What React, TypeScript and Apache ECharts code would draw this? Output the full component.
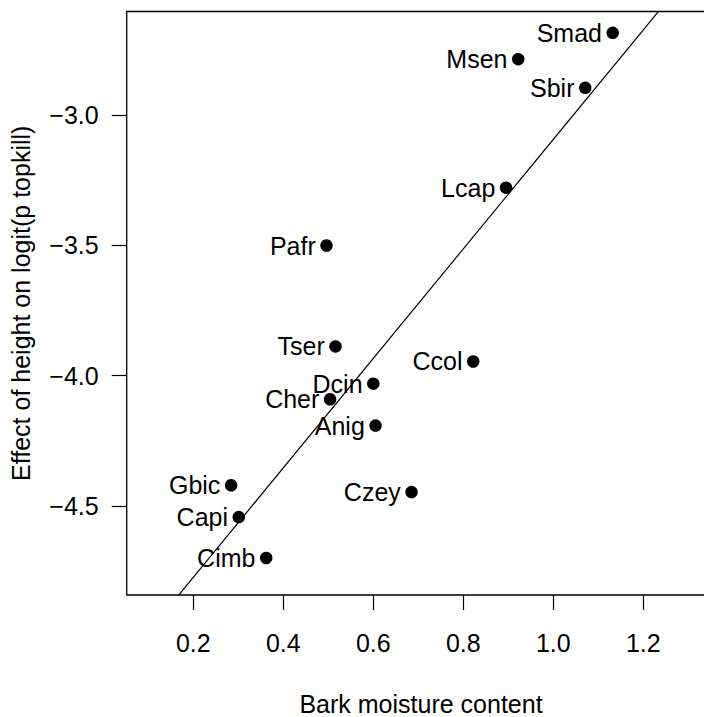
import React, { useEffect, useRef } from "react";
import * as echarts from "echarts";

const species = ["Smad", "Msen", "Sbir", "Lcap", "Pafr", "Tser", "Ccol", "Dcin", "Cher", "Anig", "Gbic", "Capi", "Cimb", "Czey"];
const barkMoisture = [1.132, 0.922, 1.071, 0.895, 0.496, 0.516, 0.822, 0.6, 0.504, 0.605, 0.284, 0.301, 0.362, 0.685];
const heightEffect = [-2.685, -2.786, -2.896, -3.279, -3.501, -3.888, -3.946, -4.031, -4.091, -4.192, -4.421, -4.543, -4.7, -4.447];
const xTicks = [0.2, 0.4, 0.6, 0.8, 1.0, 1.2];
const yTicks = [-4.5, -4.0, -3.5, -3.0];
const xLabel = "Bark moisture content";
const yLabel = "Effect of height on logit(p topkill)";

const X_MIN = 0.052;
const X_MAX = 1.36;
const Y_MIN = -4.842;
const Y_MAX = -2.603;

function leastSquares(xs: number[], ys: number[]) {
  const n = xs.length;
  const mx = xs.reduce((a, b) => a + b, 0) / n;
  const my = ys.reduce((a, b) => a + b, 0) / n;
  let sxy = 0;
  let sxx = 0;
  for (let i = 0; i < n; i++) {
    sxy += (xs[i] - mx) * (ys[i] - my);
    sxx += (xs[i] - mx) * (xs[i] - mx);
  }
  const slope = sxy / sxx;
  return { slope, intercept: my - slope * mx };
}

const FONT = "'Liberation Sans', Arial, Helvetica, sans-serif";
const FS = 25;

export default function App() {
  const ref = useRef<HTMLDivElement>(null);
  useEffect(() => {
    if (!ref.current) return;
    const chart = echarts.init(ref.current, undefined, { renderer: "svg" });
    const fit = leastSquares(barkMoisture, heightEffect);
    const lineData = [X_MIN, X_MAX].map((x) => [x, fit.intercept + fit.slope * x]);
    const points = species.map((name, i) => ({ name, value: [barkMoisture[i], heightEffect[i]] }));
    chart.setOption({
      animation: false,
      backgroundColor: "#ffffff",
      textStyle: { fontFamily: FONT, color: "#000" },
      grid: {
        left: 126.7,
        top: 11.5,
        bottom: 122,
        right: -11.3,
        outerBoundsMode: "none",
        containLabel: false,
        show: true,
        borderColor: "#000",
        borderWidth: 1.3,
        backgroundColor: "transparent",
      },
      xAxis: {
        type: "value",
        min: X_MIN,
        max: X_MAX,
        splitLine: { show: false },
        axisLine: { show: false },
        axisTick: { show: true, length: 15, lineStyle: { color: "#000", width: 1.2 }, customValues: xTicks },
        axisLabel: {
          customValues: xTicks,
          margin: 35,
          fontSize: FS,
          fontFamily: FONT,
          color: "#000",
          formatter: (v: number) => v.toFixed(1),
        },
        name: xLabel,
        nameLocation: "middle",
        nameGap: 96,
        nameTextStyle: { fontSize: FS, fontFamily: FONT, color: "#000" },
      },
      yAxis: {
        type: "value",
        min: Y_MIN,
        max: Y_MAX,
        splitLine: { show: false },
        axisLine: { show: false },
        axisTick: { show: true, length: 15, lineStyle: { color: "#000", width: 1.2 }, customValues: yTicks },
        axisLabel: {
          customValues: yTicks,
          margin: 28,
          fontSize: FS,
          fontFamily: FONT,
          color: "#000",
          formatter: (v: number) => v.toFixed(1).replace("-", "\u2212"),
        },
        name: yLabel,
        nameLocation: "middle",
        nameRotate: 90,
        nameGap: 93,
        nameTextStyle: { fontSize: FS, fontFamily: FONT, color: "#000" },
      },
      series: [
        {
          type: "line",
          data: lineData,
          showSymbol: false,
          symbol: "none",
          clip: true,
          lineStyle: { color: "#000", width: 1.2 },
          silent: true,
          z: 2,
        },
        {
          type: "scatter",
          data: points,
          symbol: "circle",
          symbolSize: 12.5,
          itemStyle: { color: "#000", opacity: 1 },
          clip: false,
          z: 3,
          label: {
            show: true,
            position: "left",
            distance: 4.5,
            formatter: (p: any) => p.name,
            fontSize: FS,
            fontFamily: FONT,
            color: "#000",
            opacity: 1,
          },
          labelLayout: { hideOverlap: false },
        },
      ],
    });
    return () => chart.dispose();
  }, []);
  return (
    <div
      ref={ref}
      style={{ position: "fixed", left: 0, top: 0, width: 704, height: 717, background: "#fff" }}
    />
  );
}
